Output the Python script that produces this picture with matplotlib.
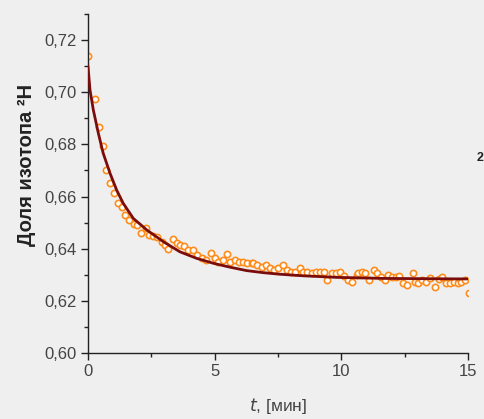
import matplotlib
matplotlib.use("Agg")
import matplotlib.pyplot as plt
from matplotlib.ticker import MultipleLocator, FuncFormatter

plt.rcParams['font.family'] = ['Liberation Sans', 'DejaVu Sans']

# Measured data points (time, min; fraction of 2H)
t_data = [0.00, 0.28, 0.43, 0.59, 0.72, 0.87, 1.03, 1.17, 1.35, 1.47, 1.63, 1.82,
          1.95, 2.10, 2.28, 2.41, 2.55, 2.74, 2.91, 3.04, 3.17, 3.34, 3.50, 3.63,
          3.80, 3.96, 4.13, 4.29, 4.49, 4.66, 4.84, 5.01, 5.15, 5.32, 5.47, 5.61,
          5.80, 5.97, 6.13, 6.29, 6.46, 6.53, 6.66, 6.86, 7.03, 7.19, 7.34, 7.51,
          7.69, 7.84, 8.00, 8.17, 8.37, 8.50, 8.66, 8.83, 9.00, 9.16, 9.32, 9.45,
          9.62, 9.79, 9.95, 10.11, 10.28, 10.41, 10.61, 10.65, 10.80, 10.94, 11.09,
          11.27, 11.40, 11.57, 11.72, 11.86, 11.99, 12.15, 12.28, 12.45, 12.58,
          12.81, 12.91, 13.04, 13.17, 13.33, 13.50, 13.70, 13.86, 13.99, 14.12,
          14.29, 14.46, 14.59, 14.72, 14.88, 15.05]
y_data = [0.7139, 0.6973, 0.6868, 0.6794, 0.6702, 0.6652, 0.6613, 0.6575, 0.6561,
          0.6529, 0.6510, 0.6495, 0.6491, 0.6461, 0.6479, 0.6452, 0.6449, 0.6446,
          0.6427, 0.6414, 0.6398, 0.6436, 0.6423, 0.6414, 0.6410, 0.6395, 0.6395,
          0.6376, 0.6363, 0.6357, 0.6382, 0.6363, 0.6350, 0.6357, 0.6380, 0.6350,
          0.6357, 0.6350, 0.6350, 0.6344, 0.6344, 0.6344, 0.6337, 0.6331, 0.6337,
          0.6325, 0.6318, 0.6325, 0.6337, 0.6318, 0.6312, 0.6312, 0.6325, 0.6312,
          0.6312, 0.6306, 0.6312, 0.6310, 0.6312, 0.6280, 0.6306, 0.6306, 0.6312,
          0.6295, 0.6280, 0.6273, 0.6300, 0.6306, 0.6312, 0.6306, 0.6280, 0.6318,
          0.6306, 0.6293, 0.6280, 0.6300, 0.6293, 0.6293, 0.6295, 0.6267, 0.6260,
          0.6306, 0.6273, 0.6267, 0.6280, 0.6273, 0.6287, 0.6255, 0.6284, 0.6293,
          0.6267, 0.6267, 0.6273, 0.6267, 0.6273, 0.6280, 0.6229]

# Fitted curve
t_fit = [0.00, 0.08, 0.21, 0.41, 0.60, 0.87, 1.13, 1.39, 1.79, 2.32, 2.97, 3.63,
         4.29, 4.95, 5.61, 6.26, 6.92, 7.58, 8.50, 9.82, 11.66, 13.30, 15.00]
y_fit = [0.7098, 0.7008, 0.6932, 0.6842, 0.6766, 0.6689, 0.6625, 0.6574, 0.6516,
         0.6472, 0.6427, 0.6388, 0.6363, 0.6344, 0.6329, 0.6316, 0.6308, 0.6302,
         0.6296, 0.6290, 0.6286, 0.6285, 0.6284]

x_major = [0, 5, 10, 15]
y_major = [0.60, 0.62, 0.64, 0.66, 0.68, 0.70, 0.72]

bg = '#efefef'
fig = plt.figure(figsize=(4.84, 4.19), dpi=100, facecolor=bg)
ax = fig.add_axes([88/484, 1 - 353/419, 380/484, 339/419], facecolor=bg)

ax.plot(t_data, y_data, linestyle='none', marker='o', markersize=4.5,
        markerfacecolor='white', markeredgecolor='#ff8c1a', markeredgewidth=1.2,
        zorder=2)
ax.plot(t_fit, y_fit, color='#7b0c0c', linewidth=2.0, zorder=3)

ax.set_xlim(0, 15)
ax.set_ylim(0.60, 0.73)
ax.set_xticks(x_major)
ax.set_yticks(y_major)
ax.xaxis.set_minor_locator(MultipleLocator(2.5))
ax.yaxis.set_minor_locator(MultipleLocator(0.01))
ax.yaxis.set_major_formatter(FuncFormatter(lambda v, p: f"{v:.2f}".replace('.', ',')))
ax.xaxis.set_major_formatter(FuncFormatter(lambda v, p: f"{v:g}"))

for s in ['top', 'right']:
    ax.spines[s].set_visible(False)
for s in ['left', 'bottom']:
    ax.spines[s].set_color('#222222')
    ax.spines[s].set_linewidth(1.0)

ax.tick_params(which='major', direction='out', length=5, width=1.0, color='#222222',
               labelsize=12, labelcolor='#444444', pad=3)
ax.tick_params(which='minor', direction='out', length=3, width=1.0, color='#222222')

ax.set_ylabel('Доля изотопа ²H', fontsize=14.5, fontweight='bold', color='#222222')
ax.yaxis.set_label_coords(-0.138, 0.555)
ax.set_xlabel('$\\it{t}$, [мин]', fontsize=12.5, color='#444444', labelpad=12)

fig.text(477/484, 1 - 158/419, '2', fontsize=9, fontweight='bold', color='#222222',
         ha='left', va='center')

fig.savefig('out.png', dpi=100, facecolor=bg)
